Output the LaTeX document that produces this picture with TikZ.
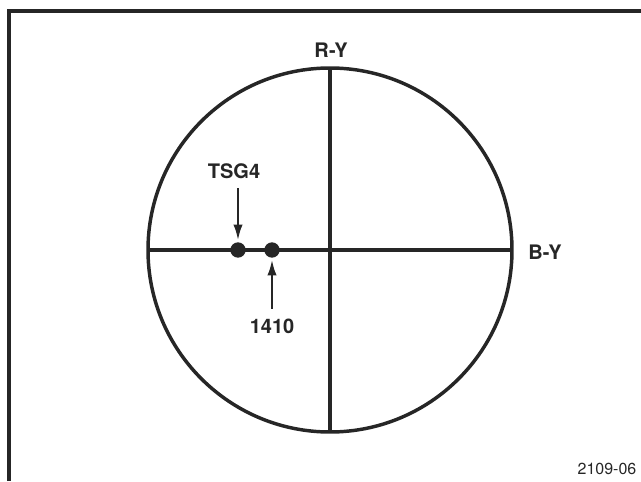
\documentclass[tikz,border=0pt]{standalone}
\usepackage{fontspec}
\setmainfont{TeX Gyre Heros}
\usetikzlibrary{
    arrows.meta,
    positioning
}

\begin{document}
\begin{tikzpicture}[
    x=0.75pt, y=-0.75pt,
    line width=2.6pt,
    color=black!85,
    axislabel/.style={
        font=\fontsize{15}{17}\selectfont\bfseries,
        inner sep=1pt
    },
    dot/.style={
        circle,
        fill,
        inner sep=0pt,
        minimum size=11.5pt
    },
    pointer/.style={
        -{Latex[length=12pt,width=7pt]},
        line width=1.9pt,
        shorten <=5pt
    }
]
\useasboundingbox (0,0) rectangle (641,481);

% frame
\draw (9,481) -- (9,11) -- (641,11);

\node[draw, circle, minimum size=273pt, inner sep=0pt, outer sep=0pt] (disp) at (330,250) {};

\draw (disp.north) -- (disp.south);
\draw (disp.west) -- (disp.east);

\node[axislabel] (rylabel) at (331,50) {R-Y};
\node[axislabel] (bylabel) at (545,252) {B-Y};

\node[dot] (tsgdot) at (238,250) {};
\node[dot] (refdot) at (272,250) {};

\node[axislabel] (tsglabel) at (234,171) {TSG4};
\node[axislabel] (reflabel) at (272,326) {1410};

\draw[pointer] (tsglabel.south -| tsgdot) -- (tsgdot.north);
\draw[pointer] (reflabel.north -| refdot) -- (refdot.south);

\node[font=\fontsize{12}{14}\selectfont] (figno) at (607,469) {2109-06};

\end{tikzpicture}
\end{document}
